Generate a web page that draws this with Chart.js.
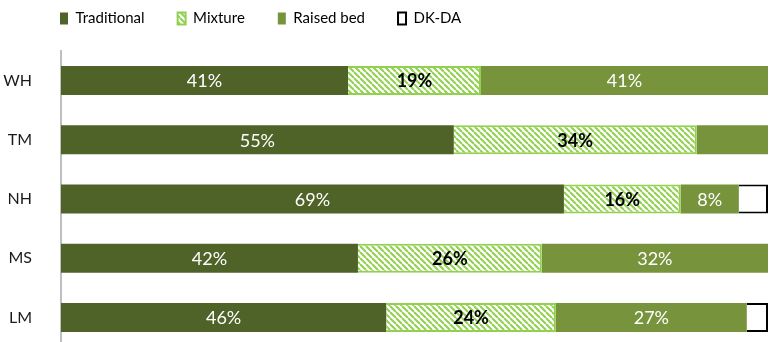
<!DOCTYPE html>
<html>
<head>
<meta charset="utf-8">
<script src="https://cdn.jsdelivr.net/npm/chart.js@4/dist/chart.umd.min.js"></script>
<style>
  html, body { margin: 0; padding: 0; background: #ffffff; }
  canvas { display: block; }
</style>
</head>
<body>
<canvas id="chart" width="772" height="342"></canvas>
<script>
// Share of each practice per region (percent, as reported)
const categories  = ['WH', 'TM', 'NH', 'MS', 'LM'];
const traditional = [41, 55, 69, 42, 46];
const mixture     = [19, 34, 16, 26, 24];
const raisedBed   = [41, 10, 8, 32, 27];
const dkDa        = [0, 0, 4, 0, 3];

// Which segments carry a printed value
const traditionalLabelled = [true, true, true, true, true];
const mixtureLabelled     = [true, true, true, true, true];
const raisedBedLabelled   = [true, false, true, true, true];
const dkDaLabelled        = [false, false, false, false, false];

// Each row is drawn as a 100% stack of the four answers
const rowTotals = categories.map((_, i) => traditional[i] + mixture[i] + raisedBed[i] + dkDa[i]);
const asShare = values => values.map((v, i) => v / rowTotals[i] * 100);

// Diagonal hatch used for the "Mixture" answer
function makeHatch(stripe, background, size) {
  const tile = document.createElement('canvas');
  tile.width = tile.height = size;
  const g = tile.getContext('2d');
  g.fillStyle = background;
  g.fillRect(0, 0, size, size);
  g.strokeStyle = stripe;
  g.lineWidth = 2;
  g.beginPath();
  for (let k = -1; k <= 1; k++) {
    g.moveTo(k * size, 0);
    g.lineTo(k * size + size, size);
  }
  g.stroke();
  return g.createPattern(tile, 'repeat');
}

const hatch = makeHatch('#92d050', '#ffffff', 6);

// Prints each labelled segment's value at its centre
const segmentLabels = {
  id: 'segmentLabels',
  afterDatasetsDraw(chart) {
    const ctx = chart.ctx;
    chart.data.datasets.forEach((ds, di) => {
      const meta = chart.getDatasetMeta(di);
      if (meta.hidden) return;
      meta.data.forEach((bar, i) => {
        if (!ds.labelled[i]) return;
        const c = bar.getCenterPoint();
        ctx.save();
        ctx.font = ds.labelFont;
        ctx.fillStyle = ds.labelColor;
        ctx.textAlign = 'center';
        ctx.textBaseline = 'middle';
        ctx.fillText(ds.values[i] + '%', c.x, c.y + 1);
        ctx.restore();
      });
    });
  }
};

// Legend sits a little in from the left edge; the plot runs a few pixels
// past the bottom edge so the row bands keep their full spacing.
const layoutTweaks = {
  id: 'layoutTweaks',
  afterLayout(chart) {
    chart.legend.left = 27;
    const y = chart.scales.y;
    y.bottom += 5;
    y.height += 5;
    chart.chartArea.bottom += 5;
    chart.chartArea.height += 5;
    y.configure();
  }
};

new Chart(document.getElementById('chart'), {
  type: 'bar',
  data: {
    labels: categories,
    datasets: [
      {
        label: 'Traditional',
        data: asShare(traditional),
        values: traditional,
        labelled: traditionalLabelled,
        labelFont: '18px Lato',
        labelColor: '#ffffff',
        backgroundColor: '#4f6228',
        borderColor: '#4f6228',
        borderWidth: 0
      },
      {
        label: 'Mixture',
        data: asShare(mixture),
        values: mixture,
        labelled: mixtureLabelled,
        labelFont: 'bold 18px Lato',
        labelColor: '#000000',
        backgroundColor: hatch,
        borderColor: '#92d050',
        borderWidth: 2
      },
      {
        label: 'Raised bed',
        data: asShare(raisedBed),
        values: raisedBed,
        labelled: raisedBedLabelled,
        labelFont: '18px Lato',
        labelColor: '#ffffff',
        backgroundColor: '#77933c',
        borderColor: '#77933c',
        borderWidth: 0
      },
      {
        label: 'DK-DA',
        data: asShare(dkDa),
        values: dkDa,
        labelled: dkDaLabelled,
        labelFont: '18px Lato',
        labelColor: '#000000',
        backgroundColor: '#ffffff',
        borderColor: '#000000',
        borderWidth: 2
      }
    ]
  },
  options: {
    indexAxis: 'y',
    responsive: false,
    animation: false,
    layout: { autoPadding: false, padding: { top: -22, left: 0, right: 4, bottom: 0 } },
    datasets: {
      bar: { categoryPercentage: 1, barPercentage: 0.49 }
    },
    scales: {
      x: {
        position: 'top',
        stacked: true,
        min: 0,
        max: 100,
        grid: { display: false },
        border: { display: false },
        ticks: { display: false },
        afterFit(scale) {
          scale.height = 15;
          scale.paddingLeft = 0;
          scale.paddingRight = 0;
        }
      },
      y: {
        stacked: true,
        grid: { display: false },
        border: { display: true, color: '#bfbfbf', width: 2 },
        ticks: {
          color: '#1a1a1a',
          padding: 21,
          font: { family: 'Lato', size: 16 }
        },
        afterFit(scale) {
          scale.width = 61;
          scale.paddingTop = 0;
          scale.paddingBottom = 0;
        }
      }
    },
    plugins: {
      legend: {
        position: 'top',
        align: 'start',
        maxHeight: 58,
        labels: {
          boxWidth: 8,
          boxHeight: 12,
          padding: 33,
          color: '#000000',
          font: { family: 'Lato', size: 15 }
        }
      },
      tooltip: { enabled: false }
    }
  },
  plugins: [segmentLabels, layoutTweaks]
});
</script>
</body>
</html>
